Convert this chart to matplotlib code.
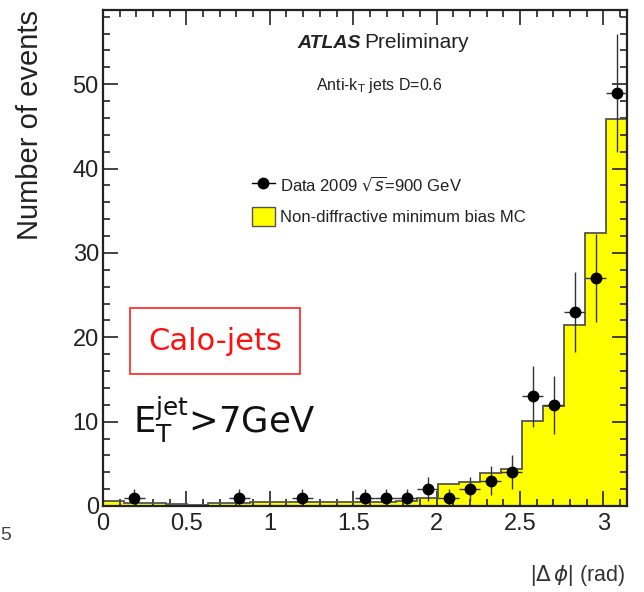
import numpy as np
import matplotlib
matplotlib.use("Agg")
import matplotlib.pyplot as plt
from matplotlib.patches import Rectangle
from matplotlib.lines import Line2D
from matplotlib.ticker import MultipleLocator

# 25 equal bins in |delta phi| from 0 to pi
n_bins = 25
data_counts = [0, 1, 0, 0, 0, 0, 1, 0, 0, 1, 0, 0, 1, 1, 1, 2, 1, 2, 3, 4, 13, 12, 23, 27, 49]
mc_counts = [0.6, 0.3, 0.3, 0.2, 0.1, 0.3, 0.3, 0.5, 0.5, 0.5, 0.5, 0.5, 0.5, 0.5, 0.6,
             0.9, 2.6, 2.8, 3.9, 4.4, 10.1, 11.9, 21.4, 32.4, 45.9]
x_ticks = [0, 0.5, 1, 1.5, 2, 2.5, 3]
x_tick_labels = ["0", "0.5", "1", "1.5", "2", "2.5", "3"]
y_ticks = [0, 10, 20, 30, 40, 50]
y_tick_labels = ["0", "10", "20", "30", "40", "50"]

edges = np.linspace(0, np.pi, n_bins + 1)
centers = 0.5 * (edges[:-1] + edges[1:])
half_w = 0.5 * (edges[1] - edges[0])
data = np.array(data_counts, dtype=float)
mc = np.array(mc_counts, dtype=float)

sans = ["Liberation Sans", "DejaVu Sans"]

fig = plt.figure(figsize=(6.44, 5.92), dpi=100)
ax = fig.add_axes([103 / 644, 86 / 592, 524 / 644, 496 / 592])

# MC histogram: yellow fill with grey outline
ax.stairs(mc, edges, fill=True, color="#ffff00", zorder=1)
ax.stairs(mc, edges, color="#555555", lw=1.3, zorder=2)

# data points with Poisson errors
sel = data > 0
ax.errorbar(centers[sel], data[sel], yerr=np.sqrt(data[sel]), xerr=half_w,
            fmt="o", color="black", ecolor="#333333", elinewidth=1.0,
            markersize=7.5, capsize=0, zorder=3)

ax.set_xlim(0, np.pi)
ax.set_ylim(0, 58.8)
ax.set_xticks(x_ticks)
ax.set_xticklabels(x_tick_labels)
ax.set_yticks(y_ticks)
ax.set_yticklabels(y_tick_labels)
ax.xaxis.set_minor_locator(MultipleLocator(0.1))
ax.yaxis.set_minor_locator(MultipleLocator(2))
ax.tick_params(which="both", direction="in", top=True, right=True, width=1.2, color="#222222")
ax.tick_params(which="major", length=10.5)
ax.tick_params(which="minor", length=5)
ax.tick_params(axis="x", which="major", pad=5)
ax.tick_params(axis="y", which="major", pad=3)
for lab in ax.get_xticklabels() + ax.get_yticklabels():
    lab.set_family(sans)
    lab.set_fontsize(17)
    lab.set_color("#222222")
for sp in ax.spines.values():
    sp.set_linewidth(1.6)
    sp.set_color("#222222")

# axis titles
fig.text(30 / 644, 1 - 10 / 592, "Number of events", rotation=90, ha="center", va="top",
         fontsize=21, family=sans, color="#222222")
fig.text(626 / 644, 1 - 575 / 592, r"|$\Delta\,\phi$| (rad)", ha="right", va="center",
         fontsize=15.5, family=sans, color="#333333")

# labels inside the frame
fig.text(361 / 644, 1 - 43 / 592, "ATLAS", ha="right", va="center", fontsize=14,
         weight="bold", style="italic", family=sans, color="#222222")
fig.text(364 / 644, 1 - 43 / 592, "Preliminary", ha="left", va="center", fontsize=15,
         family=sans, color="#222222")
fig.text(379 / 644, 1 - 85 / 592, r"Anti-k$_{\mathrm{T}}$ jets D=0.6", ha="center", va="center",
         fontsize=11.5, family=sans, color="#222222")

# legend
leg_h = [
    Line2D([0], [0], marker="o", color="black", lw=1.0, markersize=7.5),
    Rectangle((0, 0), 1, 1, facecolor="#ffff00", edgecolor="#555555", lw=1.0),
]
leg = fig.legend(leg_h, [r"Data 2009 $\sqrt{s}$=900 GeV", "Non-diffractive minimum bias MC"],
                 loc="upper left", bbox_to_anchor=(252 / 644, 1 - 175 / 592),
                 bbox_transform=fig.transFigure, frameon=False,
                 handlelength=1.35, handleheight=1.4, handletextpad=0.35, labelspacing=0.75,
                 borderpad=0, borderaxespad=0, prop={"family": sans, "size": 12})
for t in leg.get_texts():
    t.set_color("#222222")

# selection annotations
fig.text(215 / 644, 1 - 341 / 592, "Calo-jets", ha="center", va="center", fontsize=22,
         color="#ff1010", family=["DejaVu Sans"],
         bbox=dict(boxstyle="square,pad=0.6", facecolor="white", edgecolor="#ff2020", lw=1.2))
fig.text(133 / 644, 1 - 420 / 592, r"E$_{\mathrm{T}}^{\mathrm{jet}}$>7GeV", ha="left", va="center",
         fontsize=25.5, color="#111111", family=["DejaVu Sans"])

fig.text(0.0, 1 - 535 / 592, "5", ha="left", va="center", fontsize=14, color="#444444",
         family=sans)

fig.savefig("out.png", dpi=100)
